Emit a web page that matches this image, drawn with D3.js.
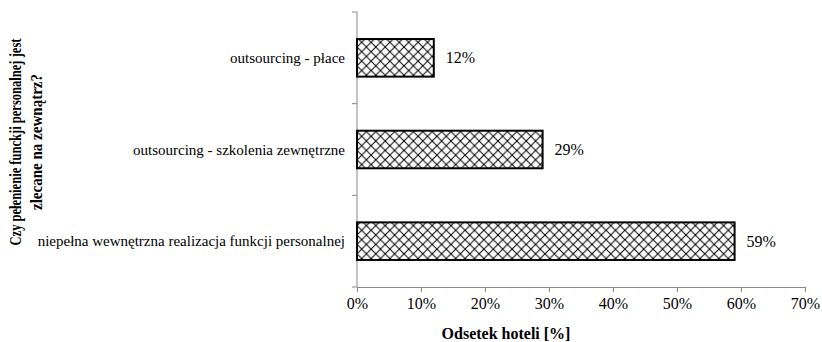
<!DOCTYPE html>
<html>
<head>
<meta charset="utf-8">
<script src="https://cdn.jsdelivr.net/npm/d3@7/dist/d3.min.js"></script>
<style>
  html, body { margin: 0; padding: 0; background: #fff; }
  svg { display: block; }
</style>
</head>
<body>
<svg id="chart" width="822" height="342"></svg>
<script>
// Survey answers (top to bottom) and share of hotels
const categories = [
  "outsourcing - płace",
  "outsourcing - szkolenia zewnętrzne",
  "niepełna wewnętrzna realizacja funkcji personalnej"
];
const values = [12, 29, 59];
const xTicks = [0, 10, 20, 30, 40, 50, 60, 70];
const xTitle = "Odsetek hoteli [%]";
const yTitleLines = ["Czy pełenienie funckji personalnej jest", "zlecane na zewnątrz?"];

const SERIF = '"Liberation Serif", "Times New Roman", Times, serif';
const svg = d3.select("#chart");
const plot = { left: 357, right: 805, top: 12, bottom: 287 };

const x = d3.scaleLinear().domain([0, 70]).range([plot.left, plot.right]);
const y = d3.scaleBand().domain(categories)
  .range([plot.top, plot.bottom])
  .paddingInner(0.59).paddingOuter(0.295);

// Cross-hatch fill for the bars
const H = 9.4;
const defs = svg.append("defs");
const pat = defs.append("pattern")
  .attr("id", "hatch")
  .attr("patternUnits", "userSpaceOnUse")
  .attr("x", plot.left).attr("y", 0)
  .attr("width", H).attr("height", H);
pat.append("rect").attr("width", H).attr("height", H).attr("fill", "#fff");
pat.append("path")
  .attr("d", `M0,0L${H},${H}M${H},0L0,${H}`)
  .attr("stroke", "#000").attr("stroke-width", 1).attr("fill", "none");

// X axis
const xAxis = svg.append("g")
  .attr("transform", `translate(0,${plot.bottom})`)
  .call(d3.axisBottom(x).tickValues(xTicks).tickFormat(d => d + "%").tickSizeOuter(0).tickSize(5));
xAxis.select(".domain").attr("stroke", "#888");
xAxis.selectAll(".tick line").attr("stroke", "#888");
xAxis.selectAll(".tick text")
  .style("font-family", SERIF)
  .attr("font-size", 16).attr("fill", "#000").attr("dy", "0.85em");

// Y axis line with ticks on the band boundaries
const step = y.step();
const yBounds = d3.range(categories.length + 1).map(i => plot.top + i * step);
svg.append("line")
  .attr("x1", plot.left).attr("x2", plot.left)
  .attr("y1", plot.top).attr("y2", plot.bottom)
  .attr("stroke", "#888");
svg.selectAll(".ytick").data(yBounds).join("line")
  .attr("class", "ytick")
  .attr("x1", plot.left - 5).attr("x2", plot.left)
  .attr("y1", d => d).attr("y2", d => d)
  .attr("stroke", "#888");

// Category labels
svg.selectAll(".cat").data(categories).join("text")
  .attr("class", "cat")
  .attr("x", plot.left - 12)
  .attr("y", d => y(d) + y.bandwidth() / 2)
  .attr("dy", "0.35em")
  .attr("text-anchor", "end")
  .style("font-family", SERIF)
  .attr("font-size", 15)
  .text(d => d);

// Bars
svg.selectAll(".bar").data(values).join("rect")
  .attr("class", "bar")
  .attr("x", x(0))
  .attr("y", (d, i) => y(categories[i]))
  .attr("width", d => x(d) - x(0))
  .attr("height", y.bandwidth())
  .attr("fill", "url(#hatch)")
  .attr("stroke", "#000").attr("stroke-width", 2);

// Value labels
svg.selectAll(".val").data(values).join("text")
  .attr("class", "val")
  .attr("x", d => x(d) + 12)
  .attr("y", (d, i) => y(categories[i]) + y.bandwidth() / 2)
  .attr("dy", "0.35em")
  .style("font-family", SERIF)
  .attr("font-size", 16)
  .text(d => d + "%");

// Axis titles
svg.append("text")
  .attr("x", 506).attr("y", 339)
  .attr("text-anchor", "middle")
  .style("font-family", SERIF)
  .attr("font-size", 16).attr("font-weight", "bold")
  .text(xTitle);

// Rotated, narrow two-line title on the left
const yTitleLen = [207, 136];
yTitleLines.forEach((line, i) => {
  svg.append("text")
    .attr("transform", `translate(${i === 0 ? 21 : 42},142) rotate(-90)`)
    .attr("text-anchor", "middle")
    .attr("textLength", yTitleLen[i])
    .attr("lengthAdjust", "spacingAndGlyphs")
    .style("font-family", SERIF)
    .attr("font-size", 16).attr("font-weight", "bold")
    .text(line);
});
</script>
</body>
</html>
